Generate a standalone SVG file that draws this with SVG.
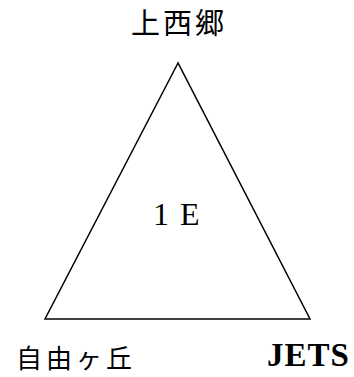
<svg xmlns="http://www.w3.org/2000/svg" width="354" height="377" viewBox="0 0 354 377">
<style>
.cjk{font-family:"Noto Sans CJK JP",sans-serif;fill:#000}
.lat{font-family:"Liberation Serif",serif;fill:#000}
.edge{fill:none;stroke:#000;stroke-width:1.5}
</style>
<rect width="354" height="377" fill="#fff"/>
<g id="connectors">
<polygon class="edge" points="178,63 45,319 310,319"/>
</g>
<g id="n-top"><text class="cjk" x="131" y="34" font-size="29" letter-spacing="3">上西郷</text></g>
<g id="n-center"><text class="lat" x="153" y="225" font-size="32" word-spacing="3">1 E</text></g>
<g id="n-left"><text class="cjk" x="16" y="368" font-size="26" letter-spacing="4">自由ヶ丘</text></g>
<g id="n-right"><text class="lat" x="267" y="366" font-size="33" font-weight="bold" letter-spacing="1">JETS</text></g>
</svg>
